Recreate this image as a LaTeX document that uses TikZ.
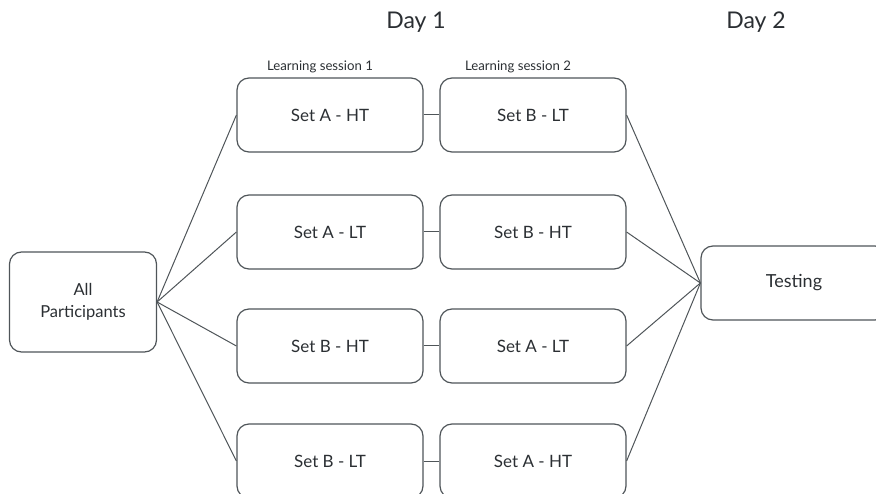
\documentclass[tikz,border=0pt]{standalone}
\usepackage{fontspec}
\setmainfont{Lato}
\definecolor{edge}{HTML}{4F5559}
\definecolor{txt}{HTML}{2B2F33}
\begin{document}
\begin{tikzpicture}[x=1pt,y=-1pt,
  box/.style={draw=edge, line width=1.2pt, rounded corners=12pt, minimum width=186pt, minimum height=74pt, inner sep=0pt, text=txt, font=\fontsize{17}{21}\selectfont, align=center},
  conn/.style={draw=edge, line width=1pt},
  daylbl/.style={text=txt, font=\fontsize{23}{26}\selectfont},
  sesslbl/.style={text=txt, font=\fontsize{13.2}{15}\selectfont}]
\useasboundingbox (0,0) rectangle (876,494);
\node[box, minimum width=147pt, minimum height=100pt, font=\fontsize{16.5}{21.5}\selectfont] (all) at (83,302) {All\\Participants};
\node[box] (a1) at (330,115) {Set A - HT};
\node[box] (b1) at (330,232) {Set A - LT};
\node[box] (c1) at (330,346) {Set B - HT};
\node[box] (d1) at (330,461) {Set B - LT};
\node[box] (a2) at (533,115) {Set B - LT};
\node[box] (b2) at (533,232) {Set B - HT};
\node[box] (c2) at (533,346) {Set A - LT};
\node[box] (d2) at (533,461) {Set A - HT};
\node[box, font=\fontsize{18}{21}\selectfont] (test) at (794,283) {Testing};
\node[daylbl] (day1) at (416,22) {Day 1};
\node[daylbl] (day2) at (756,22) {Day 2};
\node[sesslbl] (ls1) at (320,67) {Learning session 1};
\node[sesslbl] (ls2) at (518,67) {Learning session 2};
\foreach \n in {a,b,c,d}{
  \draw[conn] (all.east) -- (\n1.west);
  \draw[conn] (\n1.east) -- (\n2.west);
  \draw[conn] (\n2.east) -- (test.west);
}
\end{tikzpicture}
\end{document}
